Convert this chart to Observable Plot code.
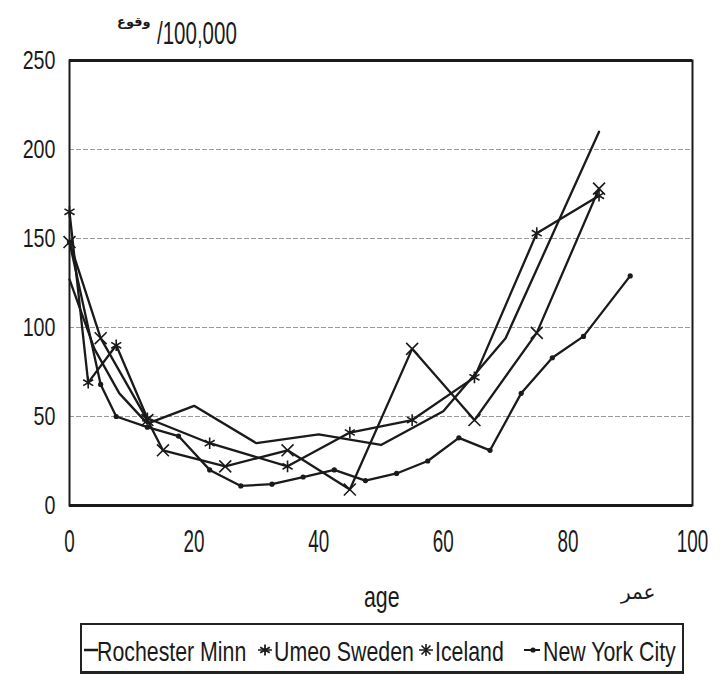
<!DOCTYPE html>
<html>
<head>
<meta charset="utf-8">
<script src="https://cdn.jsdelivr.net/npm/d3@7"></script>
<script src="https://cdn.jsdelivr.net/npm/@observablehq/plot@0.6"></script>
<style>
  html, body { margin: 0; padding: 0; background: #fff; }
  #wrap { position: relative; width: 725px; height: 681px; background: #fff; overflow: hidden;
          font-family: "Liberation Sans", Arial, sans-serif; color: #1a1a1a; }
  .abs { position: absolute; line-height: 1; white-space: nowrap; }
  .ar { font-family: "DejaVu Sans", sans-serif; }
  .lg { font-size: 26px; top: 637px; transform-origin: 0 0; transform: scale(0.82, 1.08); }
  #legend { position: absolute; left: 80px; top: 623px; width: 600px; height: 46px;
            border: 2px solid #222; border-bottom-width: 3px; }
</style>
</head>
<body>
<div id="wrap">
  <div id="chart"></div>
  <div class="abs" style="left:157px; top:18px; font-size:25px; transform-origin:0 0; transform:scale(0.82,1.25);">/100,000</div>
  <div class="abs ar" style="left:117px; top:15px; font-size:13px; font-weight:bold;">وقوع</div>
  <div class="abs" style="left:364px; top:582px; font-size:26px; transform-origin:0 0; transform:scale(0.82,1.15);">age</div>
  <div class="abs ar" style="left:621px; top:582px; font-size:20px;">عمر</div>
  <div id="legend"></div>
  <div class="abs lg" style="left:97px;">Rochester Minn</div>
  <div class="abs lg" style="left:274px;">Umeo Sweden</div>
  <div class="abs lg" style="left:435px;">Iceland</div>
  <div class="abs lg" style="left:543px;">New York City</div>
  <svg class="abs" style="left:83px; top:638px;" width="16" height="24"><line x1="1" x2="15" y1="12" y2="12" stroke="#1a1a1a" stroke-width="2.5"/></svg>
  <svg class="abs" style="left:256px; top:638px;" width="18" height="24"><line x1="2" x2="16" y1="12" y2="12" stroke="#1a1a1a" stroke-width="1.5"/><path d="M9,6.5V17.5M4.2,9.2L13.8,14.8M4.2,14.8L13.8,9.2" stroke="#1a1a1a" stroke-width="1.8"/></svg>
  <svg class="abs" style="left:417px; top:638px;" width="18" height="24"><line x1="2" x2="16" y1="12" y2="12" stroke="#1a1a1a" stroke-width="1.5"/><path d="M9,6V18M4.5,7.5L13.5,16.5M4.5,16.5L13.5,7.5" stroke="#1a1a1a" stroke-width="1.6"/></svg>
  <svg class="abs" style="left:522px; top:638px;" width="20" height="24"><line x1="2" x2="18" y1="12" y2="12" stroke="#1a1a1a" stroke-width="2"/><circle cx="11" cy="12" r="2.6" fill="#1a1a1a"/></svg>
</div>
<script>
// ---- data ----
const seriesNames = ["Rochester Minn", "Umeo Sweden", "Iceland", "New York City"];

const rochesterAge = [0, 4, 8, 12.5, 20, 30, 40, 50, 60, 70, 85];
const rochesterVal = [127, 88, 63, 46, 56, 35, 40, 34, 53, 94, 210];

const umeoAge = [0, 3, 7.5, 12.5, 22.5, 35, 45, 55, 65, 75, 85];
const umeoVal = [165, 69, 90, 49, 35, 22, 41, 48, 72, 153, 174];

const icelandAge = [0, 5, 12.5, 15, 25, 35, 45, 55, 65, 75, 85];
const icelandVal = [148, 94, 48, 31, 22, 31, 9, 88, 48, 97, 178];

const nycAge = [0, 5, 7.5, 12.5, 17.5, 22.5, 27.5, 32.5, 37.5, 42.5, 47.5, 52.5, 57.5, 62.5, 67.5, 72.5, 77.5, 82.5, 90];
const nycVal = [148, 68, 50, 44, 39, 20, 11, 12, 16, 20, 14, 18, 25, 38, 31, 63, 83, 95, 129];

const xTicks = [0, 20, 40, 60, 80, 100];
const yTicks = [0, 50, 100, 150, 200, 250];
const gridValues = [50, 100, 150, 200];

// ---- build rows ----
const rows = (name, ages, vals) => ages.map((a, i) => ({series: name, age: a, value: vals[i]}));
const rochester = rows(seriesNames[0], rochesterAge, rochesterVal);
const umeo = rows(seriesNames[1], umeoAge, umeoVal);
const iceland = rows(seriesNames[2], icelandAge, icelandVal);
const nyc = rows(seriesNames[3], nycAge, nycVal);
const all = [...rochester, ...umeo, ...iceland, ...nyc];

const ink = "#1a1a1a";

const chart = Plot.plot({
  width: 725,
  height: 615,
  marginLeft: 69,
  marginRight: 33,
  marginTop: 60,
  marginBottom: 110,
  x: {domain: [0, 100]},
  y: {domain: [0, 250]},
  style: {
    fontFamily: '"Liberation Sans", Arial, sans-serif',
    background: "white",
    color: ink
  },
  marks: [
    Plot.ruleY(gridValues, {stroke: "#9a9a9a", strokeWidth: 1, strokeDasharray: "5,2"}),
    Plot.axisY({ticks: yTicks, tickSize: 0, tickPadding: 14, fontSize: 24, label: null}),
    Plot.axisX({ticks: xTicks, tickSize: 0, tickPadding: 25, fontSize: 23, label: null}),
    Plot.line(all, {x: "age", y: "value", z: "series", stroke: ink, strokeWidth: 2.3}),
    Plot.dot(umeo, {x: "age", y: "value", symbol: "asterisk", r: 5.5, stroke: ink, strokeWidth: 1.6}),
    Plot.dot(iceland, {x: "age", y: "value", symbol: "times", r: 5.5, stroke: ink, strokeWidth: 1.6}),
    Plot.dot(nyc, {x: "age", y: "value", r: 2.6, fill: ink, stroke: "none"}),
    Plot.frame({stroke: ink, strokeWidth: 2}),
    Plot.ruleY([0, 250], {stroke: ink, strokeWidth: 3})
  ]
});

// condensed, slightly tall tick labels as in the scanned figure
function squeeze(selector, sx, sy) {
  d3.select(chart).selectAll(selector).each(function() {
    const t = this.getAttribute("transform");
    if (t) {
      this.setAttribute("transform", `${t} scale(${sx},${sy})`);
    } else {
      const x = +this.getAttribute("x") || 0, y = +this.getAttribute("y") || 0;
      this.removeAttribute("x"); this.removeAttribute("y");
      this.setAttribute("transform", `translate(${x},${y}) scale(${sx},${sy})`);
    }
  });
}
squeeze('g[aria-label="x-axis tick label"] text', 0.82, 1.33);
squeeze('g[aria-label="y-axis tick label"] text', 0.82, 1.05);

document.getElementById("chart").appendChild(chart);
</script>
</body>
</html>
